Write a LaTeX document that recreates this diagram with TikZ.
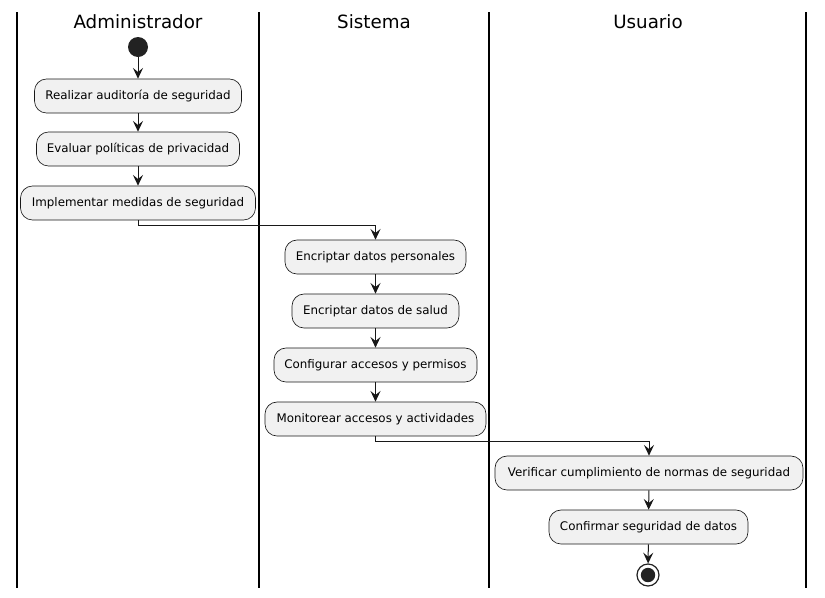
\documentclass[tikz,border=0pt]{standalone}
\usepackage{fontspec}
\setmainfont{DejaVu Sans}
\usetikzlibrary{arrows.meta}
\definecolor{actfill}{HTML}{F1F1F1}
\definecolor{umlline}{HTML}{181818}
\definecolor{umldot}{HTML}{222222}

\begin{document}
\begin{tikzpicture}[x=0.75pt, y=-0.75pt,
    >={Stealth[length=8pt, width=7.5pt, inset=3pt]},
    act/.style={draw=umlline, fill=actfill, line width=0.5pt, rounded corners=9pt,
      minimum height=25.5pt, inner xsep=0pt, font=\fontsize{8.9}{10}\selectfont},
    lane/.style={font=\fontsize{13.7}{16}\selectfont},
    flow/.style={->, draw=umlline, line width=0.75pt}]
  \useasboundingbox (0,0) rectangle (825,597);

  % swimlanes
  \foreach \x in {17, 259, 489, 806}
    \draw[line width=1.1pt] (\x,12) -- (\x,588);
  \node[lane] (admin) at (138,22) {Administrador};
  \node[lane] (sist) at (374,22) {Sistema};
  \node[lane] (user) at (648,22) {Usuario};

  % Administrador
  \node[circle, fill=umldot, minimum size=15pt, inner sep=0pt] (start) at (138,47) {};
  \node[act, minimum width=155.25pt] (a1) at (138,96) {Realizar auditoría de seguridad};
  \node[act, minimum width=152.25pt] (a2) at (138,149) {Evaluar políticas de privacidad};
  \node[act, minimum width=176.25pt] (a3) at (138,203) {Implementar medidas de seguridad};

  % Sistema
  \node[act, minimum width=135.75pt] (s1) at (375.5,257) {Encriptar datos personales};
  \node[act, minimum width=125.25pt] (s2) at (375.5,311) {Encriptar datos de salud};
  \node[act, minimum width=152.25pt] (s3) at (375.5,365) {Configurar accesos y permisos};
  \node[act, minimum width=165.75pt] (s4) at (375.5,419) {Monitorear accesos y actividades};

  % Usuario
  \node[act, minimum width=231pt] (u1) at (649,473) {Verificar cumplimiento de normas de seguridad};
  \node[act, minimum width=149.25pt] (u2) at (648.5,527) {Confirmar seguridad de datos};
  \node[circle, draw=umldot, line width=0.9pt, minimum size=16.5pt, inner sep=0pt] (stop) at (648,575) {};
  \fill[umldot] (stop.center) circle[radius=5.4pt];

  % flows
  \draw[flow] (start) -- (a1);
  \draw[flow] (a1) -- (a2);
  \draw[flow] (a2) -- (a3);
  \draw[flow] (a3.south) -- ++(0,5) -| (s1.north);
  \draw[flow] (s1) -- (s2);
  \draw[flow] (s2) -- (s3);
  \draw[flow] (s3) -- (s4);
  \draw[flow] (s4.south) -- ++(0,5) -| (u1.north);
  \draw[flow] (u1) -- (u2);
  \draw[flow] (u2) -- (stop);
\end{tikzpicture}
\end{document}
